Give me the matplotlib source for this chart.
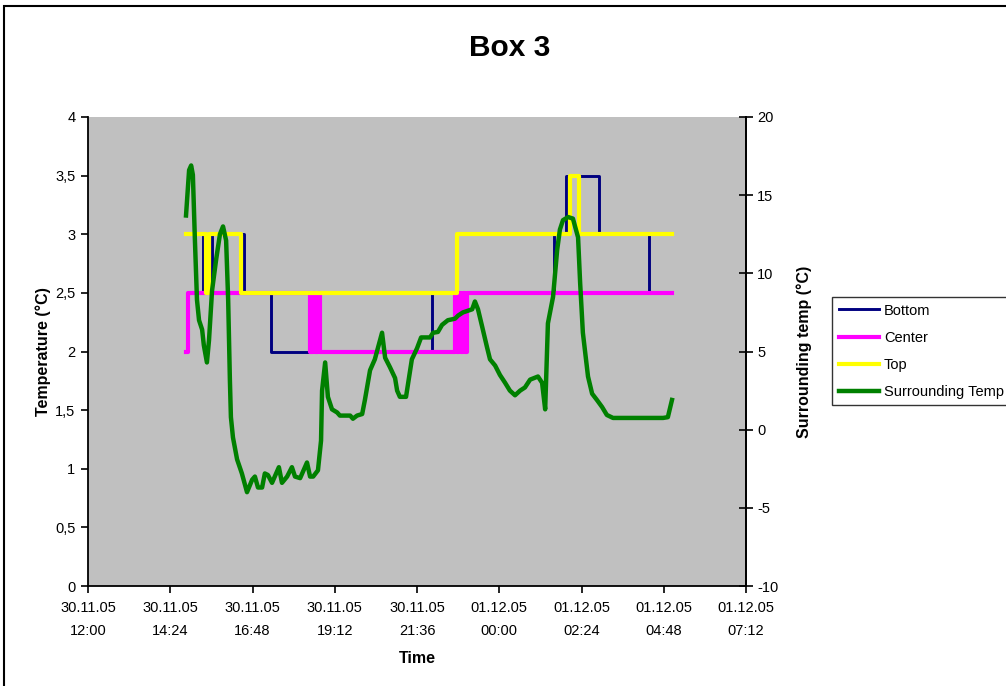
import datetime as dt

import matplotlib
matplotlib.use("Agg")
import matplotlib.pyplot as plt
import matplotlib.dates as mdates
from matplotlib.patches import Rectangle
from matplotlib.ticker import FuncFormatter

plt.rcParams["font.family"] = ["Liberation Sans", "DejaVu Sans"]
plt.rcParams["axes.unicode_minus"] = False

t0 = dt.datetime(2005, 11, 30, 12, 0)

# Sensor readings: hours after 30.11.05 12:00 at which the logged value changes
bottom_h = [2.86, 3.36, 3.62, 4.55, 5.34, 10.04, 13.60, 13.95, 14.91, 16.37, 17.04]
bottom_v = [3.0, 2.5, 3.0, 2.5, 2.0, 2.5, 3.0, 3.5, 3.0, 2.5, 2.5]

center_h = [2.86, 2.92, 6.48, 6.56, 6.62, 6.70, 6.77,
            10.71, 10.77, 10.83, 10.89, 10.95, 11.01, 11.07, 17.04]
center_v = [2.0, 2.5, 2.0, 2.5, 2.0, 2.5, 2.0,
            2.5, 2.0, 2.5, 2.0, 2.5, 2.0, 2.5, 2.5]

top_h = [2.86, 3.44, 3.53, 4.46, 10.77, 14.07, 14.33, 17.04]
top_v = [3.0, 2.5, 3.0, 2.5, 3.0, 3.5, 3.0, 3.0]

# Surrounding air temperature, right axis
env_h = [2.86, 2.95, 3.01, 3.06, 3.12, 3.18, 3.24, 3.33, 3.38, 3.47, 3.53,
         3.62, 3.74, 3.85, 3.94, 4.03, 4.09, 4.14, 4.17, 4.23, 4.35, 4.49,
         4.64, 4.79, 4.87, 4.96, 5.08, 5.16, 5.25, 5.37, 5.57, 5.66, 5.81,
         5.95, 6.04, 6.19, 6.39, 6.48, 6.57, 6.71, 6.80, 6.83, 6.92, 7.00,
         7.12, 7.27, 7.35, 7.65, 7.73, 7.85, 8.00, 8.08, 8.23, 8.37, 8.58,
         8.67, 8.81, 8.96, 9.02, 9.10, 9.28, 9.45, 9.60, 9.72, 9.98, 10.07,
         10.21, 10.33, 10.50, 10.71, 10.80, 10.94, 11.21, 11.29, 11.38, 11.50,
         11.64, 11.73, 11.88, 12.02, 12.17, 12.31, 12.46, 12.61, 12.75, 12.90,
         13.13, 13.25, 13.34, 13.42, 13.57, 13.69, 13.77, 13.86, 14.01, 14.15,
         14.30, 14.36, 14.44, 14.59, 14.71, 14.85, 15.00, 15.14, 15.32, 16.78,
         16.92, 17.04]
env_v = [13.7, 16.6, 16.9, 16.3, 12.1, 8.3, 7.0, 6.4, 5.4, 4.3, 5.7,
         8.9, 10.9, 12.5, 13.0, 12.1, 8.3, 3.2, 0.8, -0.5, -1.9, -2.8,
         -4.0, -3.2, -3.0, -3.7, -3.7, -2.8, -2.9, -3.4, -2.4, -3.4, -3.0,
         -2.4, -3.0, -3.1, -2.1, -3.0, -3.0, -2.6, -0.7, 2.5, 4.3, 2.1,
         1.3, 1.1, 0.9, 0.9, 0.7, 0.9, 1.0, 1.9, 3.8, 4.5, 6.2,
         4.6, 4.0, 3.3, 2.5, 2.1, 2.1, 4.5, 5.2, 5.9, 5.9, 6.2,
         6.25, 6.7, 7.0, 7.1, 7.3, 7.5, 7.7, 8.2, 7.7, 6.6,
         5.3, 4.5, 4.1, 3.5, 3.0, 2.5, 2.2, 2.5, 2.7, 3.2,
         3.4, 3.0, 1.3, 6.8, 8.5, 11.5, 12.8, 13.4, 13.6, 13.5,
         12.3, 9.4, 6.2, 3.4, 2.3, 1.9, 1.45, 0.94, 0.75, 0.75,
         0.8, 1.9]

x_ticks_h = [0, 2.4, 4.8, 7.2, 9.6, 12.0, 14.4, 16.8, 19.2]


def to_time(hours):
    return [t0 + dt.timedelta(hours=h) for h in hours]


fig = plt.figure(figsize=(10.06, 6.86), dpi=100)
ax = fig.add_axes([88 / 1006, 100 / 686, 658 / 1006, 469 / 686])
ax.set_facecolor("#C0C0C0")
ax2 = ax.twinx()

l1, = ax.plot(to_time(bottom_h), bottom_v, drawstyle="steps-post",
              color="#000080", lw=2.1, label="Bottom")
l2, = ax.plot(to_time(center_h), center_v, drawstyle="steps-post",
              color="#FF00FF", lw=3.0, label="Center")
l3, = ax.plot(to_time(top_h), top_v, drawstyle="steps-post",
              color="#FFFF00", lw=3.0, label="Top")
l4, = ax2.plot(to_time(env_h), env_v, color="#008000", lw=3.2,
               solid_joinstyle="round", label="Surrounding Temp")

ax.set_xlim(to_time([0, 19.2]))
ax.set_ylim(0, 4)
ax2.set_ylim(-10, 20)
ax.set_xticks(to_time(x_ticks_h))
ax.xaxis.set_major_formatter(mdates.DateFormatter("%d.%m.%y\n%H:%M"))
ax.set_yticks([0, 0.5, 1, 1.5, 2, 2.5, 3, 3.5, 4])
ax.yaxis.set_major_formatter(FuncFormatter(lambda v, p: f"{v:g}".replace(".", ",")))
ax2.set_yticks([-10, -5, 0, 5, 10, 15, 20])

for a in (ax, ax2):
    a.spines["top"].set_visible(False)
    for s in a.spines.values():
        s.set_linewidth(1.3)
ax2.spines["left"].set_visible(False)
ax2.spines["bottom"].set_visible(False)

ax.tick_params(axis="y", direction="out", length=5, width=1.2, labelsize=10.5, pad=4)
ax.tick_params(axis="x", direction="out", length=5, width=1.2, labelsize=10.5, pad=6)
ax2.tick_params(axis="y", direction="inout", length=10, width=1.2, labelsize=10.5, pad=3)
for lab in ax.get_xticklabels():
    lab.set_linespacing(1.8)

ax.set_xlabel("Time", fontsize=11.5, fontweight="bold", labelpad=9)
ax.set_ylabel("Temperature (°C)", fontsize=11.5, fontweight="bold", labelpad=3)
ax2.set_ylabel("Surrounding temp (°C)", fontsize=11.5, fontweight="bold", labelpad=13)

fig.text(0.507, 0.930, "Box 3", ha="center", va="center",
         fontsize=21.5, fontweight="bold")

leg = fig.legend(handles=[l1, l2, l3, l4], loc="upper left",
                 bbox_to_anchor=(832 / 1006, 1 - 297 / 686), fontsize=10.5,
                 frameon=True, fancybox=False, borderpad=0.45, handlelength=2.8,
                 handletextpad=0.3, labelspacing=0.9, borderaxespad=0)
leg.get_frame().set_edgecolor("black")
leg.get_frame().set_linewidth(1.0)

# outer chart frame, running off the right and bottom edges
fig.patches.append(Rectangle((4 / 1006, -0.1), 1.2, 1.1 - 6 / 686,
                             transform=fig.transFigure, fill=False,
                             edgecolor="black", lw=1.5))

fig.savefig("out.png", dpi=100)
